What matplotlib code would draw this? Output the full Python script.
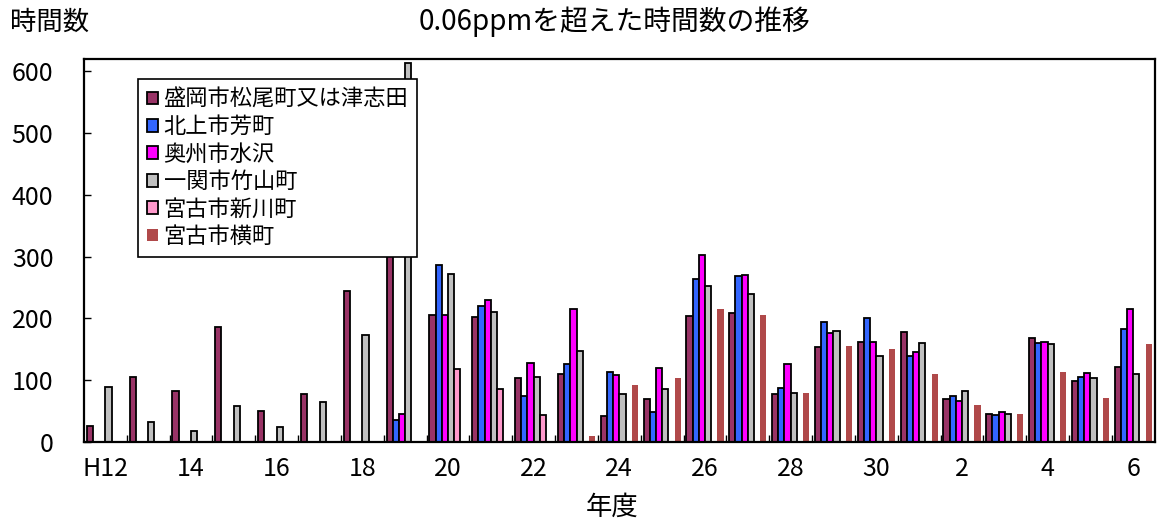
import numpy as np
import matplotlib
matplotlib.use("Agg")
import matplotlib.pyplot as plt

plt.rcParams['font.family'] = ['Noto Sans CJK JP', 'DejaVu Sans']

nan = np.nan

# 年度 (H12 .. H31, R2 .. R6)
years = ["H12", "13", "14", "15", "16", "17", "18", "19", "20", "21", "22", "23",
         "24", "25", "26", "27", "28", "29", "30", "31", "2", "3", "4", "5", "6"]
tick_labels = ["H12", "14", "16", "18", "20", "22", "24", "26", "28", "30", "2", "4", "6"]

morioka = [26, 105, 83, 186, 50, 78, 245, 350, 206, 203, 104, 110, 42, 69, 204, 208,
           77, 153, 162, 178, 70, 45, 168, 98, 122]
kitakami = [nan, nan, nan, nan, nan, nan, nan, 36, 286, 220, 75, 126, 113, 49, 264, 268,
            87, 195, 200, 140, 74, 44, 160, 105, 183]
oshu = [nan, nan, nan, nan, nan, nan, nan, 46, 205, 230, 128, 216, 109, 120, 303, 271,
        127, 177, 162, 145, 66, 49, 162, 112, 215]
ichinoseki = [89, 32, 17, 58, 24, 64, 173, 613, 272, 210, 105, 147, 78, 85, 252, 240,
              79, 180, 139, 160, 83, 45, 159, 104, 110]
miyako_shinkawa = [nan] * 8 + [118, 86, 44] + [nan] * 14
miyako_yoko = [nan] * 11 + [10, 93, 103, 215, 205, 80, 155, 151, 110, 60, 46, 113, 72, 158]

series_names = ["盛岡市松尾町又は津志田", "北上市芳町", "奥州市水沢", "一関市竹山町",
                "宮古市新川町", "宮古市横町"]
series_values = [morioka, kitakami, oshu, ichinoseki, miyako_shinkawa, miyako_yoko]
colors = ["#993366", "#3366FF", "#FF00FF", "#C0C0C0", "#FF99CC", "#B0494A"]

fig = plt.figure(figsize=(11.57, 5.23), dpi=100)
ax = fig.add_axes([0.0726, 0.1549, 0.9254, 0.7323])

x = np.arange(len(years))
w = 0.145
for k, (name, vals, col) in enumerate(zip(series_names, series_values, colors)):
    if k < 5:
        ax.bar(x + (k - 2.5) * w, vals, width=w, color=col, edgecolor="black",
               linewidth=1.3, label=name)
    else:
        ax.bar(x + (k - 2.5) * w, vals, width=w, color=col, linewidth=0, label=name)

ax.set_xlim(-0.5, len(years) - 0.5)
ax.set_ylim(0, 620)
ax.set_yticks(range(0, 601, 100))
ax.set_xticks(x[::2])
ax.set_xticklabels(tick_labels)
ax.set_xticks(np.arange(0.5, len(years) - 0.5, 1), minor=True)
ax.tick_params(axis="x", which="major", length=0, pad=10, labelsize=18)
ax.tick_params(axis="x", which="minor", direction="in", length=5, width=1)
ax.tick_params(axis="y", direction="in", length=5, width=1, pad=22, labelsize=18)
for s in ax.spines.values():
    s.set_linewidth(1.6)

leg = ax.legend(loc="upper left", bbox_to_anchor=(0.0504, 0.948), borderaxespad=0,
                fontsize=16, fancybox=False, framealpha=1, edgecolor="black",
                handlelength=0.5, handleheight=0.5, handletextpad=0.25,
                labelspacing=0.2, borderpad=0.4)
leg.get_frame().set_linewidth(1.2)
leg.set_zorder(10)

fig.text(0.531, 0.958, "0.06ppmを超えた時間数の推移", ha="center", va="center", fontsize=20)
fig.text(0.009, 0.958, "時間数", ha="left", va="center", fontsize=19)
fig.text(0.529, 0.03, "年度", ha="center", va="center", fontsize=19)

fig.savefig("out.png", dpi=100)
